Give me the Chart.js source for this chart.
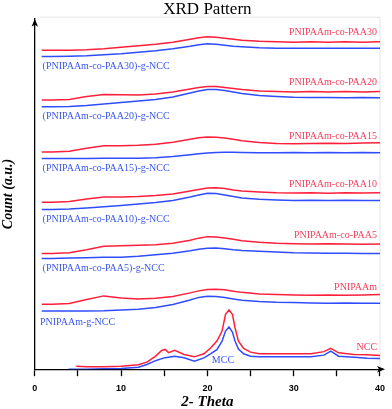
<!DOCTYPE html>
<html>
<head>
<meta charset="utf-8">
<script src="https://cdn.jsdelivr.net/npm/chart.js@4.4.1/dist/chart.umd.min.js"></script>
<style>
  html, body { margin: 0; padding: 0; background: #fff; }
  #xrd { display: block; }
</style>
</head>
<body>
<canvas id="xrd" width="392" height="409"></canvas>
<script>
// 2-theta positions shared by the stacked polymer patterns
const theta = [0.8, 2, 4, 6, 8, 10, 12, 14, 16, 18, 19, 20, 21, 22, 23, 24, 26, 28, 30, 32, 34, 36, 38, 40];

// counts (a.u.), already offset like in the figure
const paa30 = [317.5, 317.5, 317.5, 318, 319, 320.5, 322, 323.5, 325.5, 328.5, 330, 331, 330.5, 329.5, 328.5, 327.5, 326.5, 326, 325.5, 326, 325.5, 326, 325.5, 326];
const paa30Ncc = [311.3, 311.3, 311.5, 312, 313, 314, 315.5, 317, 319, 321.5, 323, 324, 323.5, 322.5, 321.5, 321, 320, 319.7, 319.5, 319.7, 319.5, 319.7, 319.5, 319.7];
const paa20 = [268, 268, 268.5, 271.5, 273.5, 273.2, 273, 274, 276, 279, 280.5, 281.5, 281.5, 280.5, 279.5, 278.5, 277, 276.5, 276, 276.5, 276, 276.5, 276, 276.5];
const paa20Ncc = [261.3, 261.3, 261.5, 262.5, 264, 265.5, 267, 268.5, 271, 275, 277, 278.5, 278.5, 277.5, 276, 274.5, 272.5, 271.5, 270.7, 270.5, 270.5, 270.3, 270.5, 270.3];
const paa15 = [216.3, 216.3, 217, 220, 222.5, 222.5, 223, 224, 226, 229, 230.5, 231.3, 231, 230.2, 229, 227.5, 225.7, 224.7, 224.5, 224.7, 225, 224.7, 225.2, 225.5];
const paa15Ncc = [209.7, 209.7, 209.7, 209.8, 210, 210, 210, 210.5, 211.7, 213.5, 214.5, 215.3, 215.7, 216, 216, 215.8, 215.5, 215.5, 215.7, 215.5, 215.7, 215.5, 215.7, 215.5];
const paa10 = [166.3, 166.3, 167, 169.5, 171.5, 171.5, 172, 173, 174.5, 177.5, 179, 180.5, 180.7, 180, 178.5, 177.5, 176.5, 175.7, 175.5, 175.7, 175.3, 175.7, 175.5, 175.7];
const paa10Ncc = [159, 159, 159.5, 160.5, 161.7, 163, 164.5, 166, 168, 171.5, 173.5, 175.3, 175, 173.5, 172, 170.5, 169.3, 168.5, 168, 168.2, 168, 168.2, 168, 168];
const paa5 = [115.3, 115.3, 116, 119, 122.5, 123, 123.5, 124, 125.5, 128.5, 130.5, 132, 131.7, 130.7, 129.5, 128, 126.5, 125.5, 125, 124.7, 125, 124.7, 124.5, 124.7];
const paa5Ncc = [110.3, 110.3, 110.7, 111, 111.5, 111.5, 112.5, 114, 115.5, 118, 119.5, 120.5, 120.7, 120, 119, 118.3, 117.5, 116.7, 116, 115.7, 115.5, 115.5, 115.3, 115.3];
const pnipaam = [64.7, 64.7, 65.5, 69.5, 73, 71, 70, 70.7, 72.5, 76, 78, 79.3, 79.7, 79, 77.7, 76.5, 75, 74.5, 74, 73.7, 74, 73.7, 74, 74.5];
const pnipaamNcc = [58, 58, 58, 58, 58.3, 59, 59.7, 61.5, 64.5, 69, 71.5, 72.7, 72.5, 71.3, 70, 68.7, 67.5, 66.7, 66.3, 66, 65.7, 66, 65.7, 65.7];

// cellulose patterns are sampled finer round the peaks
const thetaCell = [3.9, 4.8, 6, 8, 10, 12, 13, 14, 14.7, 15.1, 15.5, 16.2, 17.3, 18.5, 19.6, 20.4, 21.1, 21.7, 22.1, 22.5, 22.9, 23.2, 23.6, 24.2, 25, 26, 28, 30, 32, 33.5, 34.3, 35.2, 37, 38.5, 40];
const ncc = [null, 3, 2.5, 2.5, 3, 4.5, 7, 13, 18.7, 19.7, 16.5, 18.7, 14.7, 12.3, 15.3, 21.3, 28, 38, 54.7, 59, 54.7, 41.3, 28, 20.7, 17, 15.5, 15.3, 15.5, 15.3, 17.5, 20.7, 16.3, 14.7, 14.5, 13.7];
const mcc = [0, 0, 0, 0.5, 0.7, 2, 4.7, 8.5, 10.5, 11.5, 12, 13, 11.3, 8, 11.3, 15.5, 19.5, 28, 38, 42, 37, 28, 20, 15.3, 13, 12.3, 12.3, 12.5, 12.3, 14, 18, 13, 12, 11, 10.7];

// curve labels: [text, theta, count, colour key, align]
const curveLabels = [
  ["PNIPAAm-co-PAA30", 39.66, 335, "red", "right"],
  ["(PNIPAAm-co-PAA30)-g-NCC", 0.9, 301.3, "blue", "left"],
  ["PNIPAAm-co-PAA20", 39.66, 285.3, "red", "right"],
  ["(PNIPAAm-co-PAA20)-g-NCC", 0.9, 252, "blue", "left"],
  ["PNIPAAm-co-PAA15", 39.66, 232.3, "red", "right"],
  ["(PNIPAAm-co-PAA15)-g-NCC", 0.9, 199.7, "blue", "left"],
  ["PNIPAAm-co-PAA10", 39.66, 183.7, "red", "right"],
  ["(PNIPAAm-co-PAA10)-g-NCC", 0.9, 148.7, "blue", "left"],
  ["PNIPAAm-co-PAA5", 39.66, 133, "red", "right"],
  ["(PNIPAAm-co-PAA5)-g-NCC", 0.9, 100.7, "blue", "left"],
  ["PNIPAAm", 39.66, 81.3, "red", "right"],
  ["PNIPAAm-g-NCC", 0.6, 47, "blue", "left"],
  ["NCC", 39.66, 22, "red", "right"],
  ["MCC", 21.8, 8.7, "blue", "center"]
];

const RED = "#ff1f3a";
const BLUE = "#2f4cff";
const TEXT = { red: "#f2405e", blue: "#3a56ee" };

const toPoints = (xs, ys) => xs.map((x, i) => ({ x, y: ys[i] }));
const series = (label, xs, ys, color) => ({
  label,
  data: toPoints(xs, ys),
  borderColor: color,
  borderWidth: 1.5,
  pointRadius: 0,
  tension: 0,
  fill: false
});

const datasets = [
  series("PNIPAAm-co-PAA30", theta, paa30, RED),
  series("(PNIPAAm-co-PAA30)-g-NCC", theta, paa30Ncc, BLUE),
  series("PNIPAAm-co-PAA20", theta, paa20, RED),
  series("(PNIPAAm-co-PAA20)-g-NCC", theta, paa20Ncc, BLUE),
  series("PNIPAAm-co-PAA15", theta, paa15, RED),
  series("(PNIPAAm-co-PAA15)-g-NCC", theta, paa15Ncc, BLUE),
  series("PNIPAAm-co-PAA10", theta, paa10, RED),
  series("(PNIPAAm-co-PAA10)-g-NCC", theta, paa10Ncc, BLUE),
  series("PNIPAAm-co-PAA5", theta, paa5, RED),
  series("(PNIPAAm-co-PAA5)-g-NCC", theta, paa5Ncc, BLUE),
  series("PNIPAAm", theta, pnipaam, RED),
  series("PNIPAAm-g-NCC", theta, pnipaamNcc, BLUE),
  series("NCC", thetaCell, ncc, RED),
  series("MCC", thetaCell, mcc, BLUE)
];

// faint frame, arrows on the axes + the text next to each curve
const xrdDecor = {
  id: "xrdDecor",
  beforeDatasetsDraw(chart) {
    const { ctx, chartArea: a } = chart;
    ctx.save();
    ctx.strokeStyle = "#e4e4e4";
    ctx.lineWidth = 1;
    ctx.beginPath();
    ctx.moveTo(a.left + 5, a.top - 1.5);
    ctx.lineTo(a.right, a.top - 1.5);
    ctx.lineTo(a.right, a.bottom);
    ctx.stroke();
    ctx.restore();
  },
  afterDraw(chart) {
    const { ctx, chartArea: a, scales: { x, y } } = chart;
    ctx.save();
    ctx.fillStyle = "#000";
    ctx.strokeStyle = "#000";
    ctx.lineWidth = 1.3;
    // y arrow
    ctx.beginPath();
    ctx.moveTo(a.left, a.top);
    ctx.lineTo(a.left - 3.2, a.top + 8);
    ctx.lineTo(a.left, a.top + 6);
    ctx.lineTo(a.left + 3.2, a.top + 8);
    ctx.closePath();
    ctx.fill();
    // x arrow
    ctx.beginPath();
    ctx.moveTo(a.right, a.bottom);
    ctx.lineTo(a.right + 3, a.bottom);
    ctx.stroke();
    ctx.beginPath();
    ctx.moveTo(a.right + 5, a.bottom);
    ctx.lineTo(a.right - 3, a.bottom - 3.2);
    ctx.lineTo(a.right - 1, a.bottom);
    ctx.lineTo(a.right - 3, a.bottom + 3.2);
    ctx.closePath();
    ctx.fill();

    ctx.font = "10px 'Liberation Serif', serif";
    ctx.textBaseline = "middle";
    curveLabels.forEach(([text, t, v, col, align]) => {
      ctx.fillStyle = TEXT[col];
      ctx.textAlign = align;
      ctx.fillText(text, x.getPixelForValue(t), y.getPixelForValue(v));
    });
    ctx.restore();
  }
};

new Chart(document.getElementById("xrd"), {
  type: "line",
  data: { datasets },
  options: {
    responsive: false,
    animation: false,
    events: [],
    layout: { padding: { left: 0, right: 7, top: 0, bottom: 0 } },
    plugins: {
      legend: { display: false },
      tooltip: { enabled: false },
      title: {
        display: true,
        text: "XRD Pattern",
        fullSize: false,
        color: "#000",
        font: { family: "'Liberation Serif', serif", size: 17, weight: "normal", lineHeight: 1.1 },
        padding: { top: 0, bottom: 0 }
      }
    },
    scales: {
      x: {
        type: "linear",
        min: 0,
        max: 40,
        border: { color: "#000", width: 1.3 },
        grid: { drawOnChartArea: false, tickLength: 7, color: "#000", tickWidth: 1.3 },
        ticks: {
          stepSize: 5,
          padding: 7,
          color: "#000",
          maxRotation: 0,
          font: { family: "'Liberation Sans', Arial, sans-serif", size: 9, weight: "bold" },
          callback: v => (v % 10 === 0 ? v : "")
        },
        title: {
          display: true,
          text: "2- Theta",
          color: "#000",
          font: { family: "'Liberation Serif', serif", size: 15, weight: "bold", style: "italic", lineHeight: 1 },
          padding: { top: -6, bottom: -1 }
        }
      },
      y: {
        min: 0,
        max: 349,
        border: { color: "#000", width: 1.3 },
        grid: { display: false, drawTicks: false },
        ticks: { display: false },
        title: {
          display: true,
          text: "Count (a.u.)",
          color: "#000",
          font: { family: "'Liberation Serif', serif", size: 14, weight: "bold", style: "italic" },
          padding: { top: 0, bottom: 18 }
        }
      }
    }
  },
  plugins: [xrdDecor]
});
</script>
</body>
</html>
